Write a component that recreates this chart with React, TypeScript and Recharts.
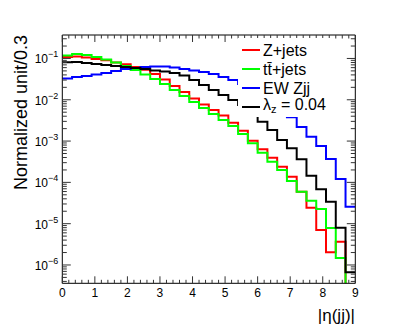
import React from 'react';
import { LineChart, Line, XAxis, YAxis, Legend } from 'recharts';

// bin edges of |eta(jj)|, 30 bins of width 0.3
const binEdges = [
  0, 0.3, 0.6, 0.9, 1.2, 1.5, 1.8, 2.1, 2.4, 2.7, 3.0, 3.3, 3.6, 3.9, 4.2,
  4.5, 4.8, 5.1, 5.4, 5.7, 6.0, 6.3, 6.6, 6.9, 7.2, 7.5, 7.8, 8.1, 8.4, 8.7, 9.0,
];

// empty bin (drawn below the log axis, like ROOT does)
const EMPTY = 1e-9;

const zJets = [
  0.109, 0.112, 0.106, 0.097, 0.09, 0.08, 0.072, 0.062, 0.053, 0.042,
  0.031, 0.0216, 0.01545, 0.01075, 0.00769, 0.00566, 0.00417, 0.00279, 0.00179, 0.00102,
  0.000633, 0.000396, 0.00024, 0.000137, 0.0000596, 0.0000244, 0.00000703, 0.00000203, 0.00000366, EMPTY,
];

const ttJets = [
  0.118, 0.1285, 0.1215, 0.1087, 0.0946, 0.08, 0.0658, 0.0527, 0.041, 0.0319,
  0.0241, 0.01726, 0.01236, 0.00885, 0.00633, 0.00453, 0.00324, 0.00232, 0.00149, 0.000885,
  0.000524, 0.000317, 0.0002, 0.000108, 0.0000596, 0.000036, 0.0000227, 0.00000787, 0.00000148, EMPTY,
];

const ewZjj = [
  0.0328, 0.0356, 0.0377, 0.041, 0.0446, 0.0498, 0.0557, 0.0589, 0.0622, 0.064,
  0.064, 0.0605, 0.0557, 0.0512, 0.0471, 0.0422, 0.0356, 0.0301, 0.0241, 0.01726,
  0.01236, 0.00837, 0.00566, 0.00377, 0.00219, 0.00128, 0.00076, 0.000369, 0.000121, 0.0000258,
];

const lambdaZ = [
  0.0809, 0.0823, 0.0778, 0.0736, 0.0696, 0.0658, 0.0622, 0.0589, 0.0557, 0.0512,
  0.0484, 0.0446, 0.0388, 0.0301, 0.0228, 0.01726, 0.01306, 0.00989, 0.00748, 0.00507,
  0.00295, 0.00186, 0.00106, 0.00067, 0.000362, 0.000145, 0.0000681, 0.0000341, 0.000008, 0.000000665,
];

const xMajorTicks = [0, 1, 2, 3, 4, 5, 6, 7, 8, 9];
const yMajorTicks = [1e-6, 1e-5, 1e-4, 1e-3, 1e-2, 1e-1];
const Y_DOMAIN: [number, number] = [3.6e-7, 0.37];

const SERIES = [
  { key: 'zjets', name: 'Z+jets', color: '#ff0000' },
  { key: 'tt', name: 'tt\u0304+jets', color: '#00ff00' },
  { key: 'ew', name: 'EW Zjj', color: '#0000ff' },
  { key: 'lz', name: 'lambda', color: '#000000' },
];

const data = binEdges.map((x, i) => {
  const j = Math.min(i, zJets.length - 1);
  return { x, zjets: zJets[j], tt: ttJets[j], ew: ewZjj[j], lz: lambdaZ[j] };
});

const xTicks: number[] = [];
xMajorTicks.forEach((m, i) => {
  xTicks.push(m);
  if (i < xMajorTicks.length - 1) [0.2, 0.4, 0.6, 0.8].forEach(f => xTicks.push(m + f));
});

const yTicks: number[] = [];
[1e-7, ...yMajorTicks].forEach(d => {
  for (let k = 1; k <= 9; k++) {
    const v = d * k;
    if (v >= Y_DOMAIN[0] && v <= Y_DOMAIN[1]) yTicks.push(v);
  }
});

const FONT = '"Liberation Sans", Arial, Helvetica, sans-serif';
const TICK = '#333';

const isIntX = (v: number) => Math.abs(v - Math.round(v)) < 1e-6;
const isDecade = (v: number) => {
  const l = Math.log10(v);
  return Math.abs(l - Math.round(l)) < 1e-6;
};

const BottomTick = ({ x, y, payload }: any) => {
  const major = isIntX(payload.value);
  return (
    <g>
      <line x1={x} x2={x} y1={y} y2={y - (major ? 7 : 3.5)} stroke={TICK} />
      {major && (
        <text x={x} y={y + 13.5} textAnchor="middle" fontSize={12} fontFamily={FONT} fill="#000">
          {Math.round(payload.value)}
        </text>
      )}
    </g>
  );
};

const TopTick = ({ x, y, payload }: any) => {
  const major = isIntX(payload.value);
  return <line x1={x} x2={x} y1={y} y2={y + (major ? 7 : 3.5)} stroke={TICK} />;
};

const LeftTick = ({ x, y, payload }: any) => {
  const major = isDecade(payload.value);
  const exp = Math.round(Math.log10(payload.value));
  return (
    <g>
      <line x1={x} x2={x + (major ? 8.5 : 4.5)} y1={y} y2={y} stroke={TICK} />
      {major && (
        <text x={x - 4} y={y + 5} textAnchor="end" fontSize={12} fontFamily={FONT} fill="#000">
          <tspan>10</tspan>
          <tspan dy={-6} fontSize={9}>{'\u2212' + Math.abs(exp)}</tspan>
        </text>
      )}
    </g>
  );
};

const RightTick = ({ x, y, payload }: any) => {
  const major = isDecade(payload.value);
  return <line x1={x} x2={x - (major ? 8.5 : 4.5)} y1={y} y2={y} stroke={TICK} />;
};

const LegendBox = () => (
  <div style={{ fontFamily: FONT, fontSize: 16, background: '#fff', paddingTop: 2.5, width: 97, height: 76.5 }}>
    {SERIES.map(s => (
      <div key={s.key} style={{ display: 'flex', alignItems: 'center', height: 19, lineHeight: '19px' }}>
        <div style={{ width: 18, height: 2, background: s.color, marginLeft: 4, marginRight: 3 }} />
        <span style={{ whiteSpace: 'nowrap' }}>
          {s.key === 'lz' ? (
            <>
              {'\u03bb'}
              <sub style={{ fontSize: 11, verticalAlign: -3 }}>z</sub>
              {' = 0.04'}
            </>
          ) : (
            s.name
          )}
        </span>
      </div>
    ))}
  </div>
);

const App = () => (
  <div style={{ position: 'absolute', left: 0, top: 0, width: 399, height: 330, background: '#fff', fontFamily: FONT }}>
    <LineChart width={399} height={330} data={data} margin={{ top: 34, right: 42.7, bottom: 0, left: 0 }}>
      <XAxis
        xAxisId="b"
        dataKey="x"
        type="number"
        domain={[0, 9]}
        ticks={xTicks}
        interval={0}
        allowDataOverflow
        height={46.7}
        tickSize={0}
        tickMargin={0}
        tickLine={false}
        axisLine={{ stroke: '#000' }}
        tick={BottomTick}
        label={{
          content: () => (
            <text x={355} y={321} textAnchor="end" fontSize={17} fontFamily={FONT} fill="#000">
              |η(jj)|
            </text>
          ),
        }}
      />
      <XAxis
        xAxisId="t"
        orientation="top"
        dataKey="x"
        type="number"
        domain={[0, 9]}
        ticks={xTicks}
        interval={0}
        allowDataOverflow
        height={1}
        tickSize={0}
        tickMargin={0}
        tickLine={false}
        axisLine={{ stroke: '#000' }}
        tick={TopTick}
      />
      <YAxis
        yAxisId="l"
        type="number"
        scale="log"
        domain={Y_DOMAIN}
        ticks={yTicks}
        interval={0}
        allowDataOverflow
        width={62.3}
        tickSize={0}
        tickMargin={0}
        tickLine={false}
        axisLine={{ stroke: '#000' }}
        tick={LeftTick}
        label={{
          content: () => (
            <text
              x={27}
              y={35}
              transform="rotate(-90 27 35)"
              textAnchor="end"
              fontSize={18}
              fontFamily={FONT}
              fill="#000"
            >
              Normalized unit/0.3
            </text>
          ),
        }}
      />
      <YAxis
        yAxisId="r"
        orientation="right"
        type="number"
        scale="log"
        domain={Y_DOMAIN}
        ticks={yTicks}
        interval={0}
        allowDataOverflow
        width={1}
        tickSize={0}
        tickMargin={0}
        tickLine={false}
        axisLine={{ stroke: '#000' }}
        tick={RightTick}
      />
      {SERIES.map(s => (
        <Line
          key={s.key}
          xAxisId="b"
          yAxisId="l"
          type="stepAfter"
          dataKey={s.key}
          name={s.name}
          stroke={s.color}
          strokeWidth={2}
          dot={false}
          activeDot={false}
          isAnimationActive={false}
        />
      ))}
      <Legend
        layout="vertical"
        align="center"
        verticalAlign="middle"
        wrapperStyle={{ left: 238, top: 38, width: 97, height: 79 }}
        content={() => <LegendBox />}
      />
    </LineChart>
  </div>
);

export default App;
